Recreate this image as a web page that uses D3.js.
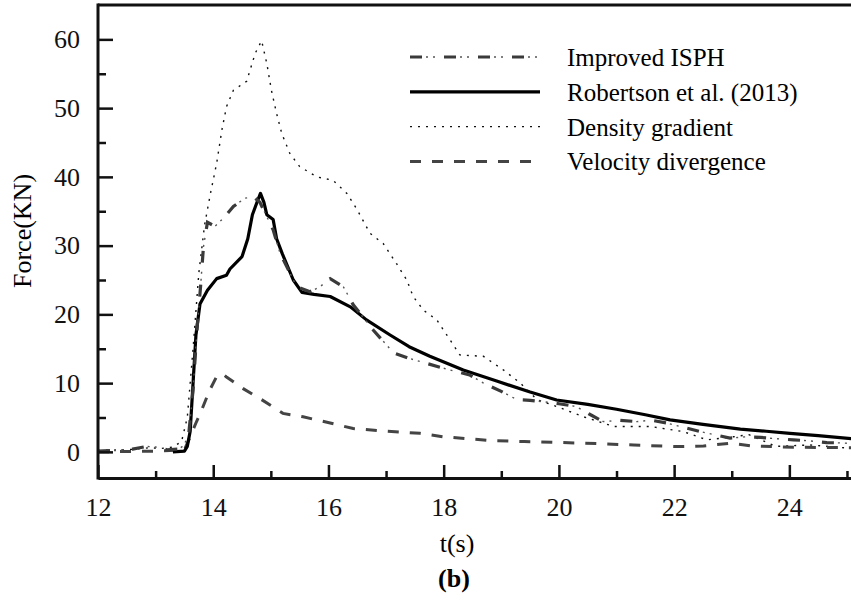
<!DOCTYPE html>
<html lang="en">
<head>
<meta charset="utf-8">
<title>Force time history (b)</title>
<script src="https://d3js.org/d3.v7.min.js"></script>
<style>
  body { margin: 0; background: #fff; }
  svg { display: block; font-family: "Liberation Serif", "Times New Roman", serif; }
  .axis text { font-size: 26px; fill: #111; font-family: "Liberation Serif", "Times New Roman", serif; }
  .axis path, .axis line { stroke: #111; }
</style>
</head>
<body>
<script>
// series: time (s) and force (KN)
var improvedT = [12.0, 12.3, 12.6, 12.85, 13.0, 13.2, 13.4, 13.5, 13.58, 13.65, 13.72, 13.78, 13.83, 13.9, 14.03, 14.2, 14.35, 14.55, 14.7, 14.81, 15.04, 15.16, 15.45, 15.68, 15.85, 16.03, 16.26, 16.43, 16.78, 17.13, 17.4, 17.65, 18.11, 18.45, 18.69, 19.0, 19.27, 19.5, 19.72, 20.0, 20.3, 20.55, 20.77, 21.05, 21.35, 21.6, 21.87, 22.15, 22.45, 22.7, 22.97, 23.25, 23.5, 23.8, 24.07, 24.35, 24.65, 24.9, 25.1];
var improvedF = [0.1, 0.2, 0.4, 0.8, 0.7, 0.3, 0.4, 1.0, 3, 9, 18, 24, 29.8, 33.4, 32.8, 34.2, 35.7, 36.9, 37.1, 36.3, 32.3, 28.9, 24.0, 23.3, 24.0, 25.2, 24.0, 21.4, 17.7, 14.4, 13.6, 13.0, 11.9, 11.2, 10.0, 8.8, 7.6, 7.5, 7.3, 7.0, 6.6, 5.4, 4.4, 4.6, 4.4, 4.6, 4.2, 3.6, 2.95, 2.5, 2.0, 2.2, 2.1, 1.9, 1.75, 1.6, 1.35, 1.3, 1.2];

var robertsonT = [13.3, 13.5, 13.55, 13.6, 13.65, 13.7, 13.77, 13.9, 14.06, 14.23, 14.29, 14.5, 14.6, 14.68, 14.76, 14.82, 14.88, 14.93, 15.04, 15.1, 15.2, 15.39, 15.54, 15.75, 16.03, 16.38, 16.66, 17.07, 17.4, 17.76, 18.34, 18.92, 19.5, 19.96, 20.5, 21.0, 21.5, 21.93, 22.5, 23.15, 23.6, 24.01, 24.5, 25.1];
var robertsonF = [0, 0.1, 0.8, 3, 10, 17, 21.5, 23.5, 25.2, 25.7, 26.6, 28.4, 31, 34.5, 36.3, 37.6, 36.3, 34.5, 33.8, 31, 28.8, 25, 23.2, 22.9, 22.6, 21.1, 19.2, 17.0, 15.3, 13.9, 11.9, 10.3, 8.7, 7.55, 6.9, 6.2, 5.4, 4.65, 4.0, 3.3, 3.0, 2.7, 2.35, 1.9];

var densityT = [12.0, 12.5, 12.9, 13.1, 13.3, 13.45, 13.55, 13.65, 13.75, 13.85, 13.95, 14.06, 14.15, 14.23, 14.35, 14.58, 14.73, 14.84, 14.93, 15.01, 15.1, 15.19, 15.33, 15.5, 15.8, 16.08, 16.32, 16.5, 16.72, 16.95, 17.18, 17.36, 17.47, 17.65, 17.88, 18.11, 18.28, 18.69, 19.04, 19.33, 19.62, 19.96, 20.43, 20.95, 21.58, 22.16, 22.57, 23.03, 23.3, 23.77, 24.36, 25.1];
var densityF = [0.2, 0.3, 0.6, 0.5, 0.7, 1.5, 5, 15, 26, 33, 37.5, 42, 46.8, 50.2, 52.6, 53.9, 58, 59.8, 56.5, 52.6, 49.2, 46.3, 43.4, 41.5, 40.0, 39.5, 37.6, 35.2, 31.8, 30.3, 27.4, 25, 22.6, 20.6, 19.2, 16.3, 14.1, 13.9, 11.9, 10, 7.6, 6.6, 5.1, 3.7, 3.7, 2.95, 1.75, 2.2, 2.5, 0.8, 1.0, 0.5];

var velocityT = [12.0, 13.0, 13.5, 13.6, 13.7, 13.8, 13.94, 14.05, 14.15, 14.23, 14.52, 14.84, 15.21, 15.56, 16.03, 16.43, 16.84, 17.59, 17.99, 18.8, 19.4, 20.07, 20.7, 21.3, 22.05, 22.51, 22.97, 23.37, 24.07, 25.1];
var velocityF = [0, 0.1, 0.3, 2.2, 4.2, 6.1, 9.0, 10.8, 11.4, 10.9, 9.2, 7.6, 5.6, 5.1, 4.2, 3.4, 3.1, 2.7, 2.2, 1.65, 1.5, 1.35, 1.2, 1.0, 0.77, 0.85, 1.26, 0.85, 0.68, 0.6];

var seriesNames = ["Improved ISPH", "Robertson et al. (2013)", "Density gradient", "Velocity divergence"];
var xMajor = [12, 14, 16, 18, 20, 22, 24];
var xMinor = [13, 15, 17, 19, 21, 23, 25];
var yMajor = [0, 10, 20, 30, 40, 50, 60];
var yMinor = [5, 15, 25, 35, 45, 55];

var width = 851, height = 615;
var plotLeft = 98, plotRight = 851, plotTop = 5, plotBottom = 478;

var svg = d3.select("body").append("svg")
    .attr("width", width)
    .attr("height", height);

var x = d3.scaleLinear().domain([12, 25.07]).range([plotLeft, plotRight]);
var y = d3.scaleLinear().domain([-3.8, 65]).range([plotBottom, plotTop]);

svg.append("defs").append("clipPath").attr("id", "plot")
  .append("rect").attr("x", plotLeft).attr("y", plotTop)
  .attr("width", plotRight - plotLeft).attr("height", plotBottom - plotTop);

function pairs(ts, fs) {
  return ts.map(function(t, i) { return [t, fs[i]]; });
}

var line = d3.line()
    .x(function(d) { return x(d[0]); })
    .y(function(d) { return y(d[1]); });

var g = svg.append("g").attr("clip-path", "url(#plot)");

// dotted: density gradient
g.append("path")
    .datum(pairs(densityT, densityF))
    .attr("d", line)
    .attr("fill", "none")
    .attr("stroke", "#111")
    .attr("stroke-width", 1.4)
    .attr("stroke-dasharray", "2,6");

// dashed: velocity divergence
g.append("path")
    .datum(pairs(velocityT, velocityF))
    .attr("d", line)
    .attr("fill", "none")
    .attr("stroke", "#444")
    .attr("stroke-width", 3)
    .attr("stroke-dasharray", "11,11");

// solid: Robertson
g.append("path")
    .datum(pairs(robertsonT, robertsonF))
    .attr("d", line)
    .attr("fill", "none")
    .attr("stroke", "#000")
    .attr("stroke-width", 3.2)
    .attr("stroke-linejoin", "round");

// dash-dot-dot: improved ISPH (thick dash + thin dots)
var imp = pairs(improvedT, improvedF);
g.append("path")
    .datum(imp)
    .attr("d", line)
    .attr("fill", "none")
    .attr("stroke", "#3a3a3a")
    .attr("stroke-width", 3.2)
    .attr("stroke-dasharray", "12,22");
g.append("path")
    .datum(imp)
    .attr("d", line)
    .attr("fill", "none")
    .attr("stroke", "#555")
    .attr("stroke-width", 1.4)
    .attr("stroke-dasharray", "0,16,2,5,2,9");

// axes
svg.append("g").attr("class", "axis y-major")
    .attr("transform", "translate(" + plotLeft + ",0)")
    .call(d3.axisLeft(y).tickValues(yMajor).tickSizeInner(-15).tickSizeOuter(0).tickPadding(18));
svg.append("g").attr("class", "axis")
    .attr("transform", "translate(" + plotLeft + ",0)")
    .call(d3.axisLeft(y).tickValues(yMinor).tickSizeInner(-8).tickSizeOuter(0).tickFormat(""))
    .select(".domain").remove();

svg.append("g").attr("class", "axis")
    .attr("transform", "translate(0," + plotBottom + ")")
    .call(d3.axisBottom(x).tickValues(xMajor).tickSizeInner(-13).tickSizeOuter(0).tickPadding(20));
svg.append("g").attr("class", "axis")
    .attr("transform", "translate(0," + plotBottom + ")")
    .call(d3.axisBottom(x).tickValues(xMinor).tickSizeInner(-7).tickSizeOuter(0).tickFormat(""))
    .select(".domain").remove();

svg.selectAll(".axis line").attr("stroke-width", 2.5);
svg.selectAll(".axis .domain").attr("stroke-width", 3);
svg.select(".y-major .domain").attr("d", "M0," + (plotTop - 1.5) + "V" + (plotBottom + 1.5));

// top frame
svg.append("line")
    .attr("x1", plotLeft).attr("x2", plotRight)
    .attr("y1", plotTop).attr("y2", plotTop)
    .attr("stroke", "#111").attr("stroke-width", 3);

// axis titles
svg.append("text")
    .attr("x", 457).attr("y", 552)
    .attr("text-anchor", "middle")
    .attr("font-size", 26)
    .text("t(s)");

svg.append("text")
    .attr("transform", "translate(31,231) rotate(-90)")
    .attr("text-anchor", "middle")
    .attr("font-size", 26)
    .text("Force(KN)");

svg.append("text")
    .attr("x", 454).attr("y", 587)
    .attr("text-anchor", "middle")
    .attr("font-size", 26)
    .attr("font-weight", "bold")
    .text("(b)");

// legend
var legendStyles = [
  [{ stroke: "#3a3a3a", w: 3.2, dash: "12,22" }, { stroke: "#555", w: 1.4, dash: "0,16,2,5,2,9" }],
  [{ stroke: "#000", w: 3.2, dash: null }],
  [{ stroke: "#111", w: 1.4, dash: "2,6" }],
  [{ stroke: "#444", w: 3, dash: "11,11" }]
];

var legend = svg.append("g").attr("transform", "translate(410,57)");
seriesNames.forEach(function(name, i) {
  var row = legend.append("g").attr("transform", "translate(0," + (i * 34.8) + ")");
  legendStyles[i].forEach(function(s) {
    row.append("line")
        .attr("x1", 0).attr("x2", 130)
        .attr("stroke", s.stroke)
        .attr("stroke-width", s.w)
        .attr("stroke-dasharray", s.dash);
  });
  row.append("text")
      .attr("x", 157).attr("y", 9)
      .attr("font-size", 25)
      .text(name);
});
</script>
</body>
</html>
